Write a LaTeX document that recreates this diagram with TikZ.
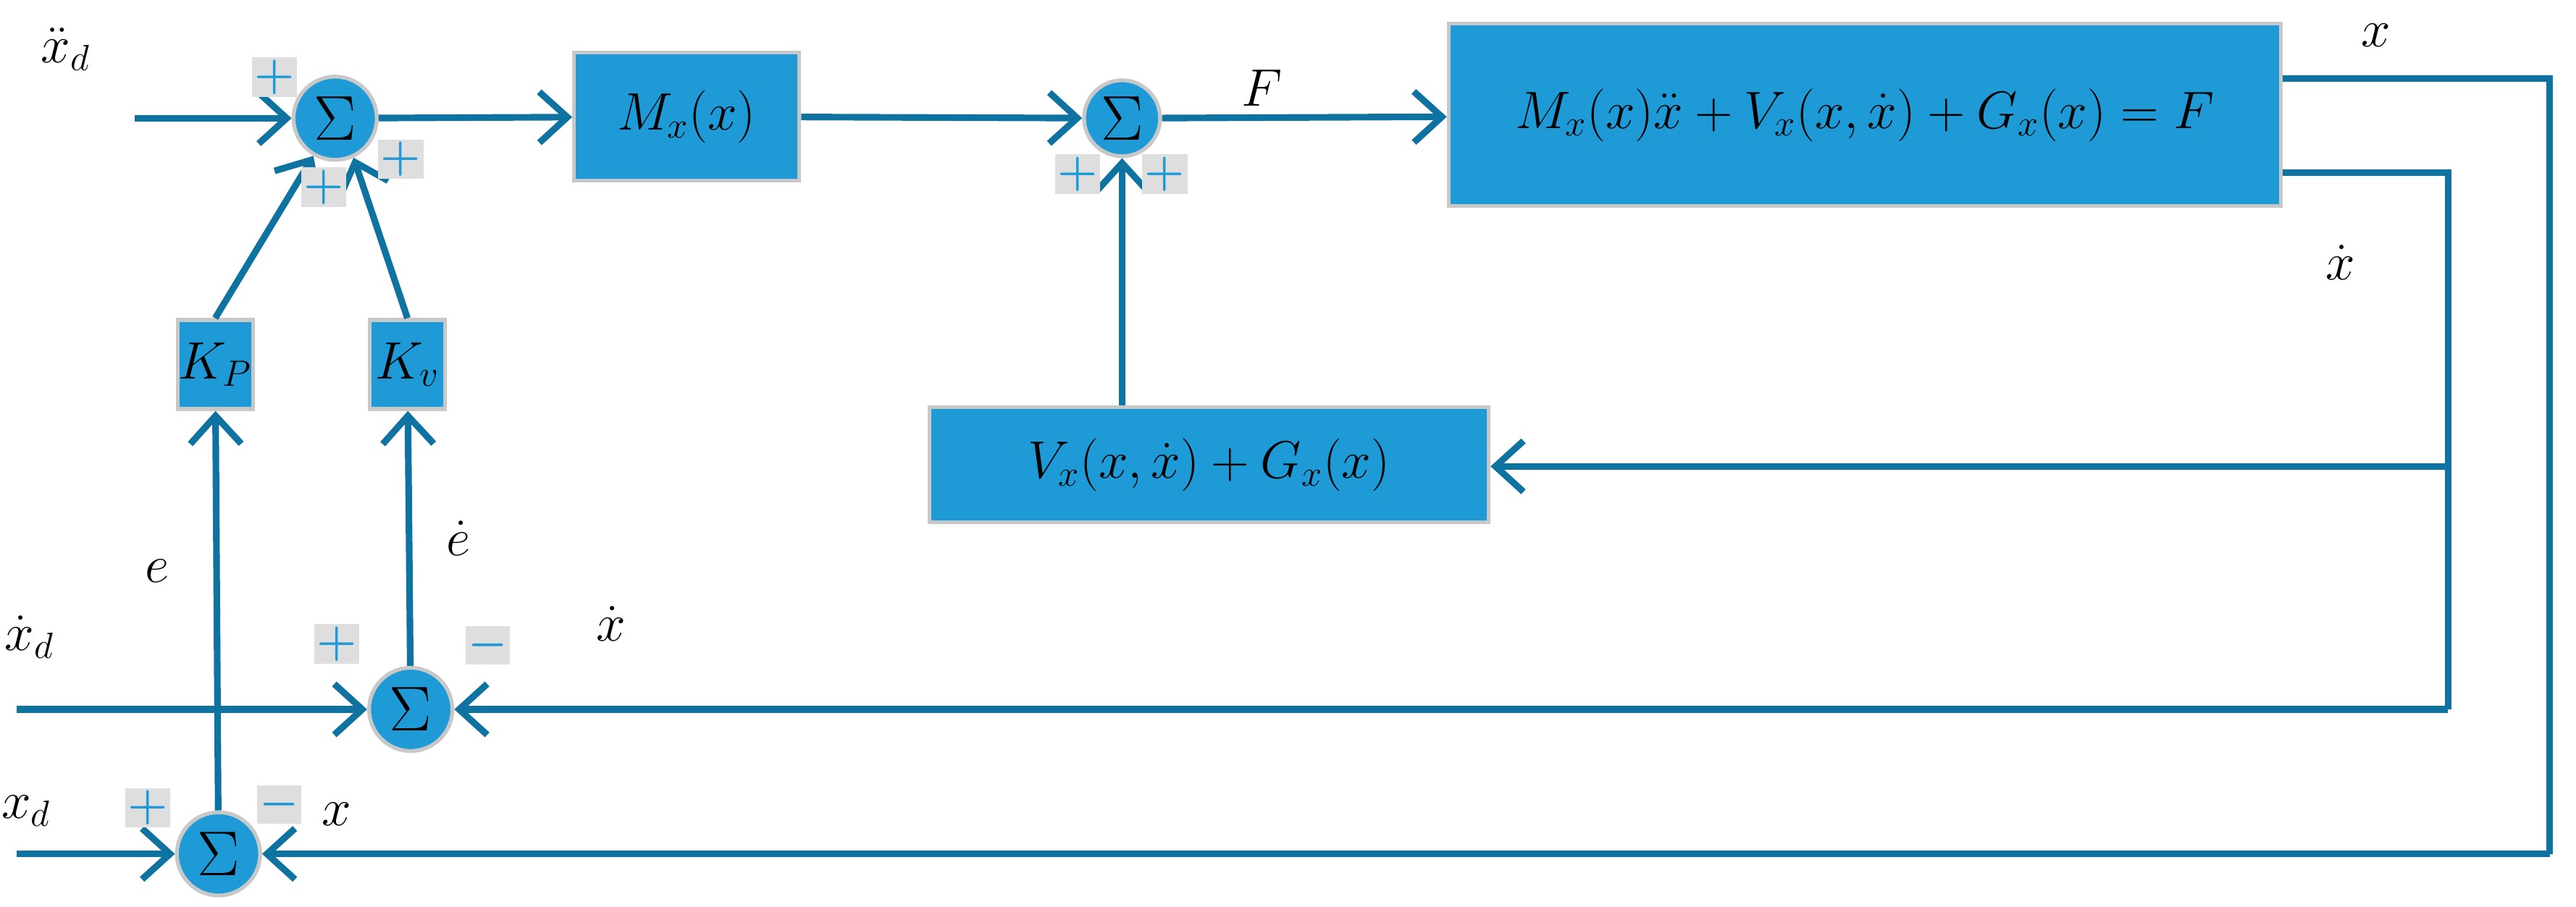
\documentclass[tikz,border=0pt]{standalone}
\usepackage{amsmath}
\usepackage{tikz}
\usetikzlibrary{arrows.meta,positioning}
\definecolor{wire}{HTML}{0E73A0}
\definecolor{boxfill}{HTML}{1E9BD7}
\definecolor{boxedge}{HTML}{C8C8C8}
\tikzset{
  block/.style={draw=boxedge,line width=1.5pt,fill=boxfill,inner sep=0pt,font=\fontsize{20}{24}\selectfont},
  sum/.style={circle,draw=boxedge,line width=1.5pt,fill=boxfill,minimum size=1.15cm,inner sep=0pt,font=\fontsize{26}{30}\selectfont},
  sig/.style={draw=wire,line width=2.6pt,-{Straight Barb[length=11pt,width=20pt,line width=2.6pt]}},
  wire/.style={draw=wire,line width=2.6pt},
  sign/.style={text=boxfill,fill=boxedge!60,inner sep=1pt,font=\bfseries\fontsize{18}{20}\selectfont},
  lab/.style={font=\fontsize{20}{24}\selectfont}
}
\begin{document}
\begin{tikzpicture}[x=0.02269cm,y=-0.02269cm]
\useasboundingbox (0,0) rectangle (1568,552);
			\node[sum] (s1) at (204,72) {$\Sigma$};
			\node[block,minimum width=3.11cm,minimum height=1.77cm] (m) at (418,71) {$M_x(x)$};
			\node[sum,minimum size=1.05cm] (s2) at (683,72) {$\Sigma$};
			\node[block,minimum width=11.49cm,minimum height=2.52cm] (plant) at (1135,70) {$M_x(x)\ddot{x}+V_x(x,\dot{x})+G_x(x)=F$};
			\node[block,minimum width=7.72cm,minimum height=1.59cm] (vg) at (736,283) {$V_x(x,\dot{x})+G_x(x)$};
			\node[block,minimum width=1.04cm,minimum height=1.23cm] (kp) at (131,222) {$K_P$};
			\node[block,minimum width=1.04cm,minimum height=1.23cm] (kv) at (248,222) {$K_v$};
			\node[sum] (s4) at (250,432) {$\Sigma$};
			\node[sum] (s5) at (133,520) {$\Sigma$};
			% inputs and corners
			\coordinate (in1) at (82,72);
			\coordinate (in2) at (10,432);
			\coordinate (in3) at (10,520);
			\coordinate (c1) at (1552,48);
			\coordinate (c2) at (1552,520);
			\coordinate (d1) at (1490,105);
			\coordinate (d2) at (1490,432);
			\coordinate (d3) at (1490,284);
			% forward path
			\path[sig] (in1) -- (s1);
			\path[sig] (s1) -- (m);
			\path[sig] (m) -- (s2);
			\path[sig] (s2) -- node[lab,above,pos=0.35] {$F$} (plant);
			\path[sig] (vg.north -| s2) -- (s2);
			% feedback
			\path[wire] (plant.east |- c1) -- node[lab,above=8pt,pos=0.35] {$x$} (c1) -- (c2);
			\path[sig] (c2) -- (s5);
			\path[wire] (plant.east |- d1) -- node[lab,below=24pt,pos=0.35] {$\dot{x}$} (d1) -- (d2);
			\path[sig] (d2) -- (s4);
			\path[sig] (d3) -- (vg.east |- d3);
			% errors
			\path[sig] (in2) -- (s4);
			\path[sig] (in3) -- (s5);
			\path[sig] (s5) -- node[lab,left=14pt,pos=0.6] {$e$} (kp);
			\path[sig] (s4) -- node[lab,right=10pt,pos=0.5] {$\dot{e}$} (kv);
			\path[sig] (kp.north) -- (s1.240);
			\path[sig] (kv.north) -- (s1.295);
			% labels
			\node[lab] at (40,30) {$\ddot{x}_d$};
			\node[lab] at (18,388) {$\dot{x}_d$};
			\node[lab] at (372,380) {$\dot{x}$};
			\node[lab] at (16,494) {$x_d$};
			\node[lab] at (205,496) {$x$};
			% signs
			\node[sign] at (167,47) {+};
			\node[sign] at (197,114) {+};
			\node[sign] at (244,97) {+};
			\node[sign] at (656,106) {+};
			\node[sign] at (709,106) {+};
			\node[sign] at (205,392) {+};
			\node[sign] at (297,393) {$\boldsymbol{-}$};
			\node[sign] at (90,492) {+};
			\node[sign] at (170,490) {$\boldsymbol{-}$};
\end{tikzpicture}
\end{document}
